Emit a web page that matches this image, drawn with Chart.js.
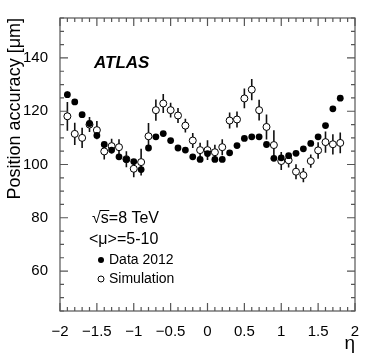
<!DOCTYPE html>
<html><head><meta charset="utf-8">
<script src="https://cdn.jsdelivr.net/npm/chart.js@4.4.1/dist/chart.umd.min.js"></script>
<style>html,body{margin:0;padding:0;background:#fff;}#wrap{width:374px;height:359px;}</style>
</head><body><div id="wrap"><canvas id="c" width="374" height="359"></canvas></div>
<script>
const eta = [-1.9,-1.8,-1.7,-1.6,-1.5,-1.4,-1.3,-1.2,-1.1,-1.0,-0.9,-0.8,-0.7,-0.6,-0.5,-0.4,-0.3,-0.2,-0.1,0.0,0.1,0.2,0.3,0.4,0.5,0.6,0.7,0.8,0.9,1.0,1.1,1.2,1.3,1.4,1.5,1.6,1.7,1.8];
const data2012 = [126.2,123.5,118.7,115.4,110.9,107.5,105.4,102.9,101.9,101.1,98.1,106.2,110.4,111.6,109.0,106.2,105.4,102.9,101.9,104.1,101.9,101.9,104.4,107.1,109.8,110.4,110.4,107.5,102.3,102.5,103.3,104.2,105.9,107.9,110.4,114.6,120.9,124.9];
const data2012Err = [1.2,1.0,0.8,0.8,0.8,0.7,0.7,0.7,0.7,0.7,0.8,0.7,0.6,0.6,0.6,0.6,0.6,0.6,0.6,0.6,0.6,0.6,0.6,0.6,0.6,0.6,0.6,0.6,0.7,0.7,0.7,0.7,0.7,0.7,0.8,0.8,0.9,1.0];
const simulation = [118.1,111.5,110.0,115.0,112.9,104.9,106.9,106.5,102.0,98.4,100.9,110.6,120.4,122.9,120.4,118.4,114.6,109.0,105.4,105.4,104.6,106.5,116.5,116.9,124.8,128.1,120.4,114.1,107.3,101.3,101.6,97.3,96.0,101.3,105.3,108.4,107.6,108.1];
const simulationErr = [5.4,4.2,3.8,2.8,3.4,3.0,2.8,3.0,3.0,3.2,5.0,5.0,4.0,3.6,2.8,2.8,2.6,2.8,2.8,3.7,2.8,3.0,3.0,3.0,3.7,4.0,3.9,4.7,5.6,3.4,2.7,2.8,2.7,2.5,3.1,4.0,3.8,3.9];
const xTickLabels = [-2,-1.5,-1,-0.5,0,0.5,1,1.5,2];
const yTickLabels = [60,80,100,120,140];
const seriesNames = ['Data 2012','Simulation'];

const FONT = "'Liberation Sans', Arial, Helvetica, sans-serif";
const fmt = v => (v < 0 ? '\u2212' + Math.abs(v) : String(v));

const framePlugin = {
  id: 'frame',
  afterDatasetsDraw(chart) {
    const {ctx, chartArea: a, scales: {x, y}} = chart;
    ctx.save();
    ctx.strokeStyle = '#555';
    ctx.lineWidth = 1.2;
    ctx.strokeRect(a.left, a.top, a.right - a.left, a.bottom - a.top);
    ctx.beginPath();
    for (let k = -20; k <= 20; k++) {
      const v = k / 10;
      const px = x.getPixelForValue(v);
      const len = (k % 5 === 0) ? 8 : 4;
      ctx.moveTo(px, a.bottom); ctx.lineTo(px, a.bottom - len);
      ctx.moveTo(px, a.top); ctx.lineTo(px, a.top + len);
    }
    for (let v = 45; v <= 155; v += 5) {
      const py = y.getPixelForValue(v);
      const len = (v % 20 === 0) ? 8 : 4;
      ctx.moveTo(a.left, py); ctx.lineTo(a.left + len, py);
      ctx.moveTo(a.right, py); ctx.lineTo(a.right - len, py);
    }
    ctx.stroke();
    ctx.restore();
  }
};

const errPlugin = {
  id: 'errbars',
  beforeDatasetsDraw(chart) {
    const {ctx, scales: {x, y}} = chart;
    ctx.save();
    ctx.strokeStyle = '#111';
    ctx.lineWidth = 1.6;
    ctx.beginPath();
    const draw = (vals, errs) => {
      vals.forEach((v, i) => {
        const px = x.getPixelForValue(eta[i]);
        ctx.moveTo(px, y.getPixelForValue(v - errs[i]));
        ctx.lineTo(px, y.getPixelForValue(v + errs[i]));
      });
    };
    draw(simulation, simulationErr);
    draw(data2012, data2012Err);
    ctx.stroke();
    ctx.restore();
  }
};

const textPlugin = {
  id: 'texts',
  afterDraw(chart) {
    const ctx = chart.ctx;
    ctx.save();
    ctx.fillStyle = '#000';
    ctx.textBaseline = 'middle';
    ctx.textAlign = 'left';
    ctx.font = `italic bold 17px ${FONT}`;
    ctx.fillText('ATLAS', 94, 63);
    ctx.font = `16px ${FONT}`;
    const sx = 92, sy = 219;
    ctx.fillText('\u221As=8 TeV', sx, sy);
    const wr = ctx.measureText('\u221A').width;
    const ws = ctx.measureText('s').width;
    ctx.strokeStyle = '#000'; ctx.lineWidth = 1;
    ctx.beginPath();
    ctx.moveTo(sx + wr - 1, sy - 8.5); ctx.lineTo(sx + wr + ws + 0.5, sy - 8.5);
    ctx.stroke();
    ctx.fillText('<\u03BC>=5-10', 89, 240);
    ctx.font = `14px ${FONT}`;
    ctx.fillText(seriesNames[0], 109, 260);
    ctx.fillText(seriesNames[1], 109, 279);
    ctx.beginPath(); ctx.arc(101, 260, 3, 0, Math.PI * 2); ctx.fill();
    ctx.beginPath(); ctx.arc(101, 279, 3, 0, Math.PI * 2);
    ctx.fillStyle = '#fff'; ctx.fill(); ctx.strokeStyle = '#000'; ctx.lineWidth = 1; ctx.stroke();
    ctx.restore();
  }
};

new Chart(document.getElementById('c'), {
  type: 'scatter',
  data: {
    datasets: [
      { label: seriesNames[0], data: eta.map((e, i) => ({x: e, y: data2012[i]})),
        pointRadius: 3.4, pointBackgroundColor: '#000', pointBorderColor: '#000', pointBorderWidth: 0, order: 0 },
      { label: seriesNames[1], data: eta.map((e, i) => ({x: e, y: simulation[i]})),
        pointRadius: 3.5, pointBackgroundColor: '#fff', pointBorderColor: '#000', pointBorderWidth: 1, order: 1 }
    ]
  },
  options: {
    responsive: false, animation: false, devicePixelRatio: 1,
    layout: { padding: { top: 18, right: 19, left: 0, bottom: 0 } },
    plugins: { legend: { display: false }, tooltip: { enabled: false } },
    scales: {
      x: {
        type: 'linear', min: -2, max: 2,
        afterBuildTicks: s => { s.ticks = xTickLabels.map(v => ({value: v})); },
        afterFit: s => { s.height = 48; },
        grid: { display: false }, border: { display: false },
        ticks: { font: { family: FONT, size: 15 }, color: '#000', padding: 4, maxRotation: 0, autoSkip: false, callback: v => fmt(v) },
        title: { display: true, text: '\u03B7', align: 'end', font: { family: FONT, size: 19 }, color: '#000', padding: { top: 0, bottom: 4 } }
      },
      y: {
        type: 'linear', min: 45, max: 155,
        afterBuildTicks: s => { s.ticks = yTickLabels.map(v => ({value: v})); },
        afterFit: s => { s.width = 60; },
        grid: { display: false }, border: { display: false },
        ticks: { font: { family: FONT, size: 15 }, color: '#000', padding: 4, callback: v => fmt(v) },
        title: { display: true, text: 'Position accuracy [\u03BCm]', align: 'end', font: { family: FONT, size: 18 }, color: '#000', padding: { top: 4, bottom: 0 } }
      }
    }
  },
  plugins: [errPlugin, framePlugin, textPlugin]
});
</script></body></html>
